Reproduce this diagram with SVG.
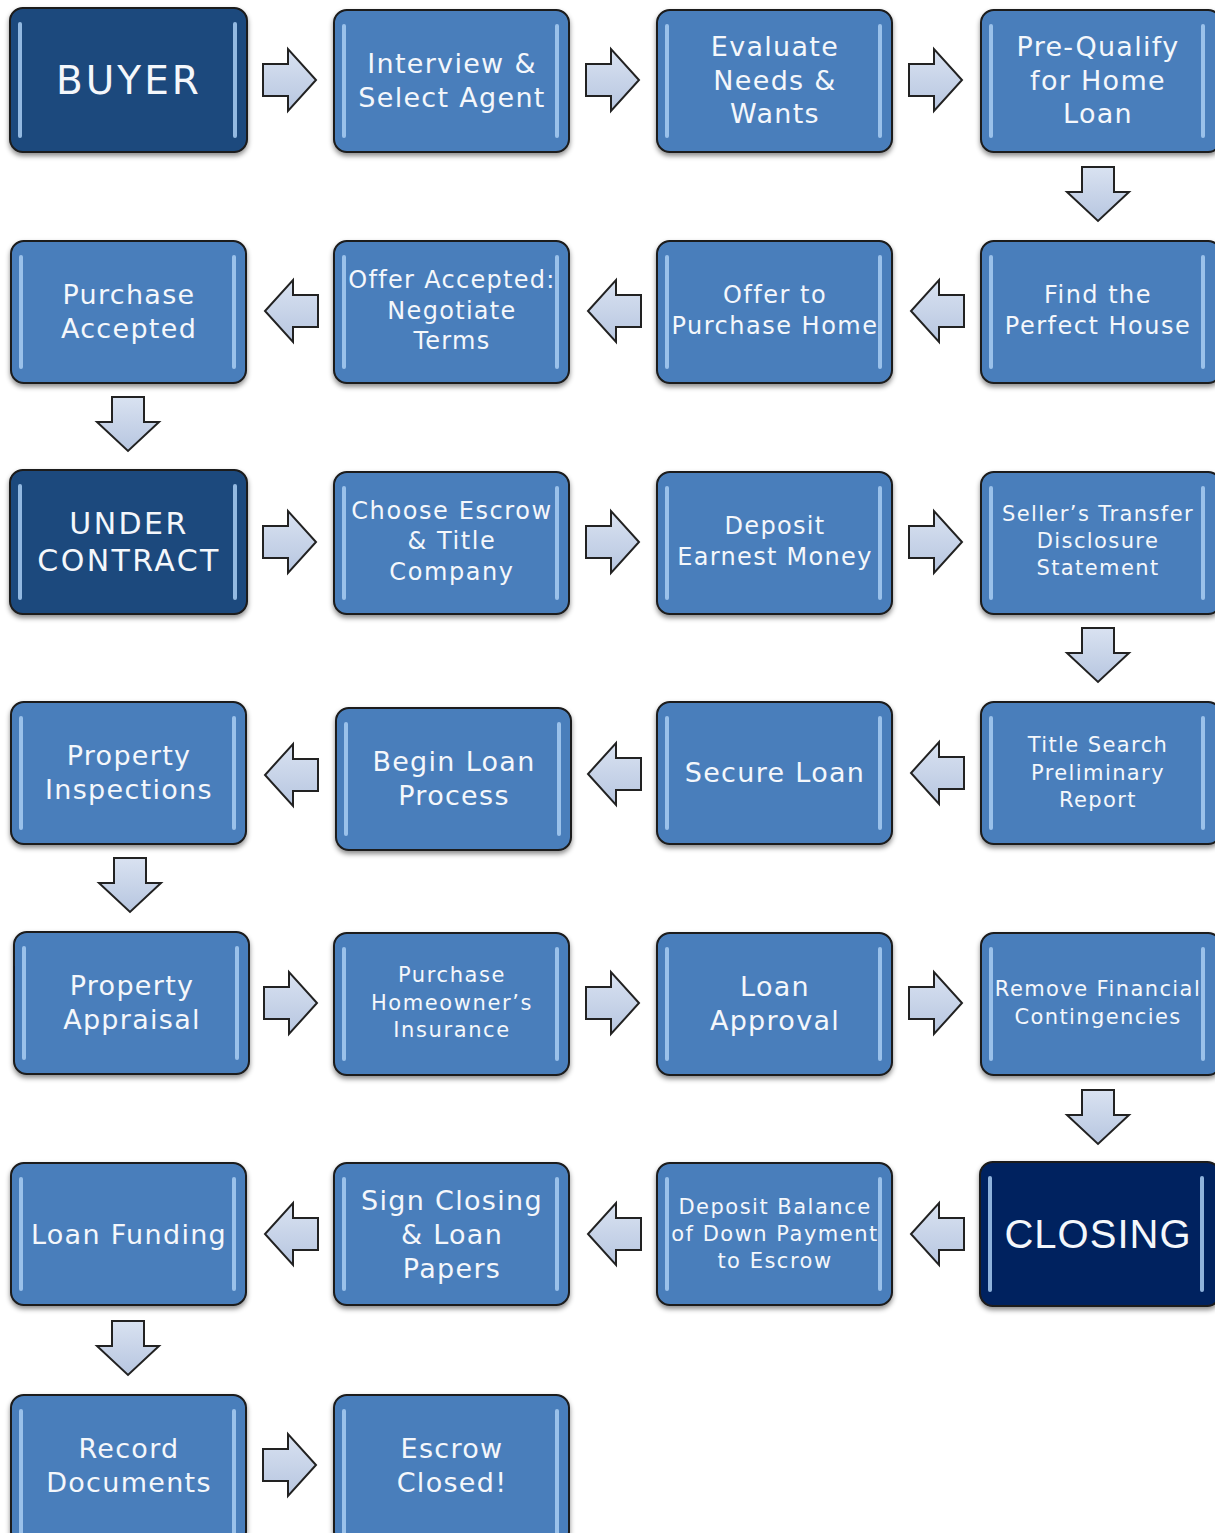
<svg xmlns="http://www.w3.org/2000/svg" width="1215" height="1533" viewBox="0 0 1215 1533">
<style>
.box{fill:#4a7ebb;stroke:#1a1a1a;stroke-width:2}
.dark{fill:#1f497d}
.darker{fill:#04215e}
.hl{fill:#a8cdf2;opacity:0.85}
.t{font-family:"DejaVu Sans",sans-serif;fill:#f4f7fb;text-anchor:middle;dominant-baseline:central;letter-spacing:1.3px}
.ta{font-family:"Liberation Sans",Arial,sans-serif;fill:#f4f7fb;text-anchor:middle;dominant-baseline:central;letter-spacing:1px}
.arr{fill:url(#ag);stroke:#222;stroke-width:2;stroke-linejoin:miter}
</style>
<defs>
<filter id="sh" x="-10%" y="-10%" width="120%" height="130%">
<feDropShadow dx="0" dy="3" stdDeviation="2.5" flood-color="#000" flood-opacity="0.45"/>
</filter>
<linearGradient id="ag" x1="0" y1="0" x2="0" y2="1">
<stop offset="0" stop-color="#d9e2f1"/>
<stop offset="1" stop-color="#b7c6e0"/>
</linearGradient>
<path id="ar" d="M-26,-16 H-1 V-31 L27,0 L-1,31 V16 H-26 Z"/>
<path id="al" d="M26,-16 H1 V-31 L-27,0 L1,31 V16 H26 Z"/>
<path id="ad" d="M-16,-27 H16 V-2 H31 L0,27 L-31,-2 H-16 Z"/>
</defs>

<g id="connectors">
<use href="#ar" class="arr" x="289" y="80"/>
<use href="#ar" class="arr" x="612" y="80"/>
<use href="#ar" class="arr" x="935" y="80"/>
<use href="#ad" class="arr" x="1098" y="194"/>
<use href="#al" class="arr" x="938" y="311"/>
<use href="#al" class="arr" x="615" y="311"/>
<use href="#al" class="arr" x="292" y="311"/>
<use href="#ad" class="arr" x="128" y="424"/>
<use href="#ar" class="arr" x="289" y="542"/>
<use href="#ar" class="arr" x="612" y="542"/>
<use href="#ar" class="arr" x="935" y="542"/>
<use href="#ad" class="arr" x="1098" y="655"/>
<use href="#al" class="arr" x="938" y="773"/>
<use href="#al" class="arr" x="615" y="774"/>
<use href="#al" class="arr" x="292" y="775"/>
<use href="#ad" class="arr" x="130" y="885"/>
<use href="#ar" class="arr" x="290" y="1003"/>
<use href="#ar" class="arr" x="612" y="1003"/>
<use href="#ar" class="arr" x="935" y="1003"/>
<use href="#ad" class="arr" x="1098" y="1117"/>
<use href="#al" class="arr" x="938" y="1234"/>
<use href="#al" class="arr" x="615" y="1234"/>
<use href="#al" class="arr" x="292" y="1234"/>
<use href="#ad" class="arr" x="128" y="1348"/>
<use href="#ar" class="arr" x="289" y="1465"/>
</g>

<g id="n1"><rect class="box dark" x="10" y="8" width="237" height="144" rx="13" filter="url(#sh)"/><rect class="hl" x="18" y="22" width="4" height="116" rx="2"/><rect class="hl" x="233" y="22" width="4" height="116" rx="2"/><text class="t" x="129" y="80" font-size="39" style="letter-spacing:3px">BUYER</text></g>
<g id="n2"><rect class="box" x="334" y="10" width="235" height="142" rx="13" filter="url(#sh)"/><rect class="hl" x="342" y="24" width="4" height="114" rx="2"/><rect class="hl" x="555" y="24" width="4" height="114" rx="2"/><text class="t" font-size="27"><tspan x="452" y="63">Interview &amp;</tspan><tspan x="452" y="97">Select Agent</tspan></text></g>
<g id="n3"><rect class="box" x="657" y="10" width="235" height="142" rx="13" filter="url(#sh)"/><rect class="hl" x="665" y="24" width="4" height="114" rx="2"/><rect class="hl" x="878" y="24" width="4" height="114" rx="2"/><text class="t" font-size="27"><tspan x="775" y="46">Evaluate</tspan><tspan x="775" y="80">Needs &amp;</tspan><tspan x="775" y="113">Wants</tspan></text></g>
<g id="n4"><rect class="box" x="981" y="10" width="240" height="142" rx="13" filter="url(#sh)"/><rect class="hl" x="989" y="24" width="4" height="114" rx="2"/><rect class="hl" x="1201" y="24" width="4" height="114" rx="2"/><text class="t" font-size="27"><tspan x="1098" y="46">Pre-Qualify</tspan><tspan x="1098" y="80">for Home</tspan><tspan x="1098" y="113">Loan</tspan></text></g>

<g id="n5"><rect class="box" x="11" y="241" width="235" height="142" rx="13" filter="url(#sh)"/><rect class="hl" x="19" y="255" width="4" height="114" rx="2"/><rect class="hl" x="232" y="255" width="4" height="114" rx="2"/><text class="t" font-size="27"><tspan x="129" y="294">Purchase</tspan><tspan x="129" y="328">Accepted</tspan></text></g>
<g id="n6"><rect class="box" x="334" y="241" width="235" height="142" rx="13" filter="url(#sh)"/><rect class="hl" x="342" y="255" width="4" height="114" rx="2"/><rect class="hl" x="555" y="255" width="4" height="114" rx="2"/><text class="t" font-size="24"><tspan x="452" y="280">Offer Accepted:</tspan><tspan x="452" y="311">Negotiate</tspan><tspan x="452" y="341">Terms</tspan></text></g>
<g id="n7"><rect class="box" x="657" y="241" width="235" height="142" rx="13" filter="url(#sh)"/><rect class="hl" x="665" y="255" width="4" height="114" rx="2"/><rect class="hl" x="878" y="255" width="4" height="114" rx="2"/><text class="t" font-size="24" style="letter-spacing:1.5px"><tspan x="775" y="295">Offer to</tspan><tspan x="775" y="326">Purchase Home</tspan></text></g>
<g id="n8"><rect class="box" x="981" y="241" width="240" height="142" rx="13" filter="url(#sh)"/><rect class="hl" x="989" y="255" width="4" height="114" rx="2"/><rect class="hl" x="1201" y="255" width="4" height="114" rx="2"/><text class="t" font-size="24" style="letter-spacing:1.5px"><tspan x="1098" y="295">Find the</tspan><tspan x="1098" y="326">Perfect House</tspan></text></g>

<g id="n9"><rect class="box dark" x="10" y="470" width="237" height="144" rx="13" filter="url(#sh)"/><rect class="hl" x="18" y="484" width="4" height="116" rx="2"/><rect class="hl" x="233" y="484" width="4" height="116" rx="2"/><text class="t" font-size="30" style="letter-spacing:2.4px"><tspan x="129" y="523">UNDER</tspan><tspan x="129" y="560">CONTRACT</tspan></text></g>
<g id="n10"><rect class="box" x="334" y="472" width="235" height="142" rx="13" filter="url(#sh)"/><rect class="hl" x="342" y="486" width="4" height="114" rx="2"/><rect class="hl" x="555" y="486" width="4" height="114" rx="2"/><text class="t" font-size="24" style="letter-spacing:1.6px"><tspan x="452" y="511">Choose Escrow</tspan><tspan x="452" y="541">&amp; Title</tspan><tspan x="452" y="572">Company</tspan></text></g>
<g id="n11"><rect class="box" x="657" y="472" width="235" height="142" rx="13" filter="url(#sh)"/><rect class="hl" x="665" y="486" width="4" height="114" rx="2"/><rect class="hl" x="878" y="486" width="4" height="114" rx="2"/><text class="t" font-size="24"><tspan x="775" y="526">Deposit</tspan><tspan x="775" y="557">Earnest Money</tspan></text></g>
<g id="n12"><rect class="box" x="981" y="472" width="240" height="142" rx="13" filter="url(#sh)"/><rect class="hl" x="989" y="486" width="4" height="114" rx="2"/><rect class="hl" x="1201" y="486" width="4" height="114" rx="2"/><text class="t" font-size="21" style="letter-spacing:1.4px"><tspan x="1098" y="514">Seller’s Transfer</tspan><tspan x="1098" y="541">Disclosure</tspan><tspan x="1098" y="568">Statement</tspan></text></g>

<g id="n13"><rect class="box" x="11" y="702" width="235" height="142" rx="13" filter="url(#sh)"/><rect class="hl" x="19" y="716" width="4" height="114" rx="2"/><rect class="hl" x="232" y="716" width="4" height="114" rx="2"/><text class="t" font-size="27"><tspan x="129" y="755">Property</tspan><tspan x="129" y="789">Inspections</tspan></text></g>
<g id="n14"><rect class="box" x="336" y="708" width="235" height="142" rx="13" filter="url(#sh)"/><rect class="hl" x="344" y="722" width="4" height="114" rx="2"/><rect class="hl" x="557" y="722" width="4" height="114" rx="2"/><text class="t" font-size="27"><tspan x="454" y="761">Begin Loan</tspan><tspan x="454" y="795">Process</tspan></text></g>
<g id="n15"><rect class="box" x="657" y="702" width="235" height="142" rx="13" filter="url(#sh)"/><rect class="hl" x="665" y="716" width="4" height="114" rx="2"/><rect class="hl" x="878" y="716" width="4" height="114" rx="2"/><text class="t" x="775" y="772" font-size="27">Secure Loan</text></g>
<g id="n16"><rect class="box" x="981" y="702" width="240" height="142" rx="13" filter="url(#sh)"/><rect class="hl" x="989" y="716" width="4" height="114" rx="2"/><rect class="hl" x="1201" y="716" width="4" height="114" rx="2"/><text class="t" font-size="21" style="letter-spacing:1.4px"><tspan x="1098" y="745">Title Search</tspan><tspan x="1098" y="773">Preliminary</tspan><tspan x="1098" y="800">Report</tspan></text></g>

<g id="n17"><rect class="box" x="14" y="932" width="235" height="142" rx="13" filter="url(#sh)"/><rect class="hl" x="22" y="946" width="4" height="114" rx="2"/><rect class="hl" x="235" y="946" width="4" height="114" rx="2"/><text class="t" font-size="27"><tspan x="132" y="985">Property</tspan><tspan x="132" y="1019">Appraisal</tspan></text></g>
<g id="n18"><rect class="box" x="334" y="933" width="235" height="142" rx="13" filter="url(#sh)"/><rect class="hl" x="342" y="947" width="4" height="114" rx="2"/><rect class="hl" x="555" y="947" width="4" height="114" rx="2"/><text class="t" font-size="21" style="letter-spacing:1.6px"><tspan x="452" y="975">Purchase</tspan><tspan x="452" y="1003">Homeowner’s</tspan><tspan x="452" y="1030">Insurance</tspan></text></g>
<g id="n19"><rect class="box" x="657" y="933" width="235" height="142" rx="13" filter="url(#sh)"/><rect class="hl" x="665" y="947" width="4" height="114" rx="2"/><rect class="hl" x="878" y="947" width="4" height="114" rx="2"/><text class="t" font-size="27"><tspan x="775" y="986">Loan</tspan><tspan x="775" y="1020">Approval</tspan></text></g>
<g id="n20"><rect class="box" x="981" y="933" width="240" height="142" rx="13" filter="url(#sh)"/><rect class="hl" x="989" y="947" width="4" height="114" rx="2"/><rect class="hl" x="1201" y="947" width="4" height="114" rx="2"/><text class="t" font-size="21" style="letter-spacing:1.4px"><tspan x="1098" y="989">Remove Financial</tspan><tspan x="1098" y="1017">Contingencies</tspan></text></g>

<g id="n21"><rect class="box" x="11" y="1163" width="235" height="142" rx="13" filter="url(#sh)"/><rect class="hl" x="19" y="1177" width="4" height="114" rx="2"/><rect class="hl" x="232" y="1177" width="4" height="114" rx="2"/><text class="t" x="129" y="1234" font-size="27">Loan Funding</text></g>
<g id="n22"><rect class="box" x="334" y="1163" width="235" height="142" rx="13" filter="url(#sh)"/><rect class="hl" x="342" y="1177" width="4" height="114" rx="2"/><rect class="hl" x="555" y="1177" width="4" height="114" rx="2"/><text class="t" font-size="27"><tspan x="452" y="1200">Sign Closing</tspan><tspan x="452" y="1234">&amp; Loan</tspan><tspan x="452" y="1268">Papers</tspan></text></g>
<g id="n23"><rect class="box" x="657" y="1163" width="235" height="142" rx="13" filter="url(#sh)"/><rect class="hl" x="665" y="1177" width="4" height="114" rx="2"/><rect class="hl" x="878" y="1177" width="4" height="114" rx="2"/><text class="t" font-size="21" style="letter-spacing:1.5px"><tspan x="775" y="1207">Deposit Balance</tspan><tspan x="775" y="1234">of Down Payment</tspan><tspan x="775" y="1261">to Escrow</tspan></text></g>
<g id="n24"><rect class="box darker" x="980" y="1162" width="240" height="144" rx="13" filter="url(#sh)"/><rect class="hl" x="988" y="1176" width="4" height="116" rx="2" opacity="0.5"/><rect class="hl" x="1200" y="1176" width="4" height="116" rx="2" opacity="0.5"/><text class="ta" x="1098" y="1234" font-size="40">CLOSING</text></g>

<g id="n25"><rect class="box" x="11" y="1395" width="235" height="150" rx="13" filter="url(#sh)"/><rect class="hl" x="19" y="1409" width="4" height="130" rx="2"/><rect class="hl" x="232" y="1409" width="4" height="130" rx="2"/><text class="t" font-size="27"><tspan x="129" y="1448">Record</tspan><tspan x="129" y="1482">Documents</tspan></text></g>
<g id="n26"><rect class="box" x="334" y="1395" width="235" height="150" rx="13" filter="url(#sh)"/><rect class="hl" x="342" y="1409" width="4" height="130" rx="2"/><rect class="hl" x="555" y="1409" width="4" height="130" rx="2"/><text class="t" font-size="27"><tspan x="452" y="1448">Escrow</tspan><tspan x="452" y="1482">Closed!</tspan></text></g>
</svg>
